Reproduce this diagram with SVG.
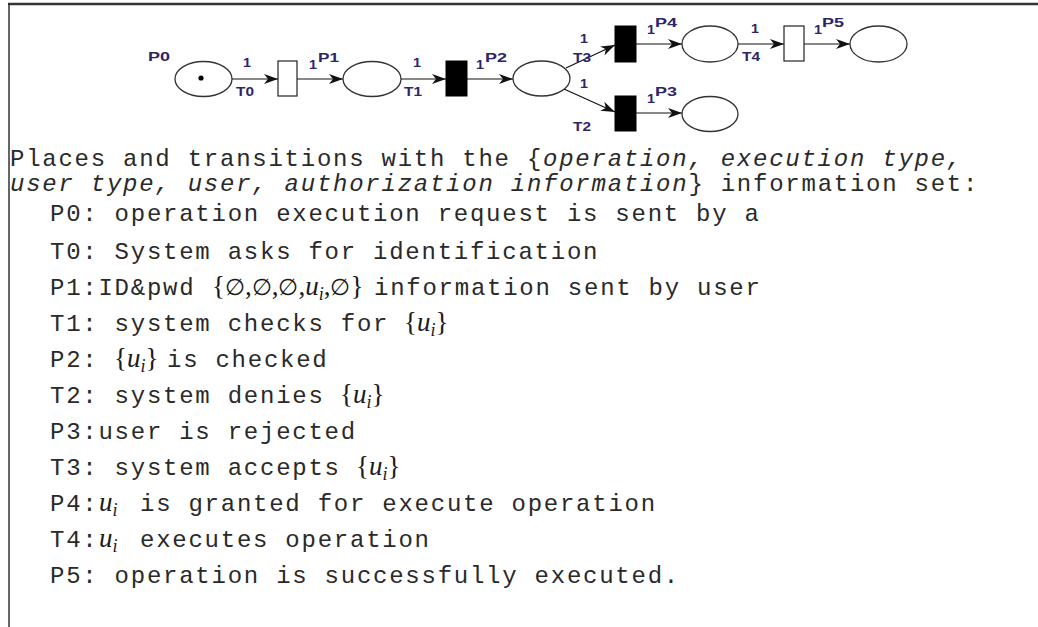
<svg xmlns="http://www.w3.org/2000/svg" width="1038" height="627" viewBox="0 0 1038 627">
  <style>
    .place { fill: #ffffff; stroke: #333333; stroke-width: 1.3; }
    .trans-open { fill: #ffffff; stroke: #222222; stroke-width: 1.2; }
    .trans-fill { fill: #000000; stroke: #000000; stroke-width: 1; }
    .arc { stroke: #111111; stroke-width: 1.2; fill: none; marker-end: url(#arrow); }
    .lbl { font-family: "Liberation Sans", Arial, sans-serif; font-weight: bold; font-size: 12px; fill: #2d2568; }
    .mono { font-family: "Liberation Mono", "Courier New", monospace; font-size: 24px; letter-spacing: 1.75px; fill: #2a2a2a; }
    .it { font-style: italic; }
    .math { font-family: "Liberation Serif", "DejaVu Serif", serif; font-size: 27px; fill: #1a1a1a; }
    .var { font-style: italic; }
    .sub { font-size: 18px; font-style: italic; }
    .empty { font-size: 23px; }
  </style>
  <defs>
    <marker id="arrow" viewBox="0 0 14 10" refX="14" refY="5" markerWidth="14" markerHeight="10" markerUnits="userSpaceOnUse" orient="auto">
      <path d="M0,0 L14,5 L0,10 L4,5 z" fill="#111111"/>
    </marker>
  </defs>

  <rect width="1038" height="627" fill="#ffffff"/>

  <!-- frame -->
  <g id="frame" stroke="#333333" fill="none">
    <line x1="8" y1="4" x2="1038" y2="4" stroke-width="2.5"/>
    <line x1="9" y1="3" x2="9" y2="627" stroke-width="1.5"/>
  </g>

  <!-- arcs -->
  <g id="connectors">
    <line class="arc" x1="232" y1="79" x2="278" y2="79"/>
    <line class="arc" x1="297" y1="79" x2="343" y2="79"/>
    <line class="arc" x1="401" y1="79" x2="446" y2="79"/>
    <line class="arc" x1="467" y1="79" x2="513" y2="79"/>
    <line class="arc" x1="566" y1="68" x2="615" y2="45"/>
    <line class="arc" x1="564" y1="89" x2="615" y2="112"/>
    <line class="arc" x1="636" y1="44" x2="682" y2="44"/>
    <line class="arc" x1="636" y1="113" x2="682" y2="113"/>
    <line class="arc" x1="738" y1="44" x2="784" y2="44"/>
    <line class="arc" x1="804" y1="44" x2="850" y2="44"/>
  </g>

  <!-- places -->
  <g id="P0">
    <ellipse class="place" cx="203.5" cy="79" rx="28.5" ry="17.5"/>
    <circle cx="201" cy="78" r="2.6" fill="#000000"/>
    <text class="lbl" x="148" y="61" textLength="22" lengthAdjust="spacingAndGlyphs">P0</text>
  </g>
  <g id="P1">
    <ellipse class="place" cx="372" cy="79" rx="29" ry="17.5"/>
    <text class="lbl" x="318" y="62" textLength="21" lengthAdjust="spacingAndGlyphs">P1</text>
  </g>
  <g id="P2">
    <ellipse class="place" cx="541.5" cy="78.5" rx="28.5" ry="17.5"/>
    <text class="lbl" x="485" y="62" textLength="22" lengthAdjust="spacingAndGlyphs">P2</text>
  </g>
  <g id="P3">
    <ellipse class="place" cx="710" cy="114" rx="28" ry="17.5"/>
    <text class="lbl" x="655" y="96" textLength="22" lengthAdjust="spacingAndGlyphs">P3</text>
  </g>
  <g id="P4">
    <ellipse class="place" cx="710" cy="44" rx="28" ry="18"/>
    <text class="lbl" x="655" y="27" textLength="22" lengthAdjust="spacingAndGlyphs">P4</text>
  </g>
  <g id="P5">
    <ellipse class="place" cx="878.5" cy="44" rx="28.5" ry="18"/>
    <text class="lbl" x="822" y="27" textLength="22" lengthAdjust="spacingAndGlyphs">P5</text>
  </g>

  <!-- transitions -->
  <g id="T0">
    <rect class="trans-open" x="278" y="61" width="19" height="35"/>
    <text class="lbl" x="236" y="96" textLength="18" lengthAdjust="spacingAndGlyphs">T0</text>
  </g>
  <g id="T1">
    <rect class="trans-fill" x="446" y="61" width="21" height="35"/>
    <text class="lbl" x="404" y="96" textLength="18" lengthAdjust="spacingAndGlyphs">T1</text>
  </g>
  <g id="T2">
    <rect class="trans-fill" x="615" y="96" width="21" height="35"/>
    <text class="lbl" x="573" y="131" textLength="18" lengthAdjust="spacingAndGlyphs">T2</text>
  </g>
  <g id="T3">
    <rect class="trans-fill" x="615" y="26" width="21" height="36"/>
    <text class="lbl" x="573" y="62" textLength="18" lengthAdjust="spacingAndGlyphs">T3</text>
  </g>
  <g id="T4">
    <rect class="trans-open" x="784" y="26" width="20" height="35"/>
    <text class="lbl" x="742" y="61" textLength="18" lengthAdjust="spacingAndGlyphs">T4</text>
  </g>

  <!-- arc weights -->
  <g id="weights" class="lbl">
    <text x="243" y="67" textLength="8" lengthAdjust="spacingAndGlyphs">1</text>
    <text x="309" y="69" textLength="8" lengthAdjust="spacingAndGlyphs">1</text>
    <text x="413" y="67" textLength="8" lengthAdjust="spacingAndGlyphs">1</text>
    <text x="476" y="69" textLength="8" lengthAdjust="spacingAndGlyphs">1</text>
    <text x="580" y="43" textLength="8" lengthAdjust="spacingAndGlyphs">1</text>
    <text x="580" y="88" textLength="8" lengthAdjust="spacingAndGlyphs">1</text>
    <text x="647" y="34" textLength="8" lengthAdjust="spacingAndGlyphs">1</text>
    <text x="647" y="103" textLength="8" lengthAdjust="spacingAndGlyphs">1</text>
    <text x="751" y="33" textLength="8" lengthAdjust="spacingAndGlyphs">1</text>
    <text x="814" y="34" textLength="8" lengthAdjust="spacingAndGlyphs">1</text>
  </g>

  <!-- description -->
  <g id="description">
    <text class="mono" x="10" y="166">Places and transitions with the {<tspan class="it">operation, execution type,</tspan></text>
    <text class="mono" x="10" y="191"><tspan class="it">user type, user, authorization information</tspan>} information set:</text>

    <text class="mono" x="50" y="221">P0: operation execution request is sent by a</text>
    <text class="mono" x="50" y="259">T0: System asks for identification</text>

    <text class="mono" x="50" y="295">P1:ID&amp;pwd</text>
    <text class="math" x="212" y="295">{<tspan class="empty">∅</tspan>,<tspan class="empty">∅</tspan>,<tspan class="empty">∅</tspan>,<tspan class="var">u</tspan><tspan class="sub" dy="5">i</tspan><tspan dy="-5">,</tspan><tspan class="empty">∅</tspan>}</text>
    <text class="mono" x="374" y="295">information sent by user</text>

    <text class="mono" x="50" y="331">T1: system checks for</text>
    <text class="math" x="404" y="331">{<tspan class="var">u</tspan><tspan class="sub" dy="5">i</tspan><tspan dy="-5">}</tspan></text>

    <text class="mono" x="50" y="367">P2:</text>
    <text class="math" x="114" y="367">{<tspan class="var">u</tspan><tspan class="sub" dy="5">i</tspan><tspan dy="-5">}</tspan></text>
    <text class="mono" x="167" y="367">is checked</text>

    <text class="mono" x="50" y="403">T2: system denies</text>
    <text class="math" x="340" y="403">{<tspan class="var">u</tspan><tspan class="sub" dy="5">i</tspan><tspan dy="-5">}</tspan></text>

    <text class="mono" x="50" y="439">P3:user is rejected</text>

    <text class="mono" x="50" y="475">T3: system accepts</text>
    <text class="math" x="356" y="475">{<tspan class="var">u</tspan><tspan class="sub" dy="5">i</tspan><tspan dy="-5">}</tspan></text>

    <text class="mono" x="50" y="511">P4:</text>
    <text class="math" x="99" y="511"><tspan class="var">u</tspan><tspan class="sub" dy="5">i</tspan></text>
    <text class="mono" x="140" y="511">is granted for execute operation</text>

    <text class="mono" x="50" y="547">T4:</text>
    <text class="math" x="99" y="547"><tspan class="var">u</tspan><tspan class="sub" dy="5">i</tspan></text>
    <text class="mono" x="140" y="547">executes operation</text>

    <text class="mono" x="50" y="583">P5: operation is successfully executed.</text>
  </g>
</svg>
